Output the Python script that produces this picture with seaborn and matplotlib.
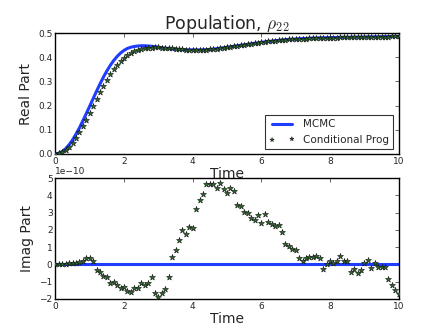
import numpy as np
import pandas as pd
import matplotlib
matplotlib.use("Agg")
import matplotlib.pyplot as plt
import seaborn as sns

# ---- data ----
time = [round(0.1 * i, 1) for i in range(101)]

mcmc_real = [
    0.000, 0.003, 0.010, 0.022, 0.038, 0.058, 0.082, 0.108, 0.137, 0.167,
    0.198, 0.229, 0.260, 0.290, 0.318, 0.344, 0.367, 0.387, 0.404, 0.418,
    0.429, 0.437, 0.442, 0.445, 0.447, 0.448, 0.448, 0.447, 0.446, 0.444,
    0.442, 0.440, 0.438, 0.437, 0.435, 0.434, 0.433, 0.432, 0.431, 0.431,
    0.431, 0.431, 0.431, 0.431, 0.432, 0.433, 0.434, 0.436, 0.438, 0.440,
    0.442, 0.444, 0.446, 0.448, 0.450, 0.452, 0.454, 0.456, 0.458, 0.460,
    0.462, 0.464, 0.466, 0.467, 0.469, 0.470, 0.472, 0.473, 0.474, 0.475,
    0.476, 0.477, 0.478, 0.478, 0.479, 0.480, 0.480, 0.481, 0.481, 0.481,
    0.482, 0.482, 0.482, 0.483, 0.483, 0.483, 0.483, 0.484, 0.484, 0.484,
    0.484, 0.485, 0.485, 0.485, 0.485, 0.486, 0.486, 0.486, 0.487, 0.487,
    0.487,
]

cond_real = [
    0.000, 0.002, 0.007, 0.016, 0.029, 0.046, 0.066, 0.089, 0.115, 0.142,
    0.170, 0.199, 0.227, 0.255, 0.281, 0.306, 0.329, 0.350, 0.368, 0.384,
    0.398, 0.409, 0.418, 0.425, 0.430, 0.434, 0.437, 0.439, 0.440, 0.441,
    0.441, 0.440, 0.439, 0.438, 0.437, 0.436, 0.434, 0.433, 0.432, 0.432,
    0.431, 0.431, 0.431, 0.431, 0.432, 0.433, 0.434, 0.436, 0.438, 0.440,
    0.442, 0.444, 0.446, 0.448, 0.450, 0.452, 0.454, 0.456, 0.458, 0.460,
    0.462, 0.464, 0.466, 0.467, 0.469, 0.470, 0.472, 0.473, 0.474, 0.475,
    0.476, 0.477, 0.478, 0.478, 0.479, 0.480, 0.480, 0.481, 0.481, 0.481,
    0.482, 0.482, 0.482, 0.483, 0.483, 0.483, 0.483, 0.484, 0.484, 0.484,
    0.484, 0.485, 0.485, 0.485, 0.485, 0.486, 0.486, 0.486, 0.487, 0.487,
    0.487,
]

mcmc_imag = [0.0] * 101

cond_imag_e10 = [
    0.00, 0.00, 0.00, 0.00, 0.05, 0.05, 0.10, 0.15, 0.20, 0.35,
    0.35, 0.20, -0.35, -0.45, -0.65, -0.75, -1.10, -1.00, -1.20, -1.40,
    -1.30, -1.55, -1.60, -1.40, -1.40, -1.10, -1.20, -1.10, -0.75, -1.65,
    -1.90, -1.65, -1.45, -0.75, 0.45, 0.85, 1.40, 2.00, 1.75, 2.15,
    2.10, 3.20, 3.70, 4.10, 4.65, 4.65, 4.65, 4.40, 4.70, 4.35,
    4.15, 4.45, 4.25, 3.45, 3.40, 3.05, 2.95, 2.70, 2.55, 2.85,
    2.40, 2.90, 2.45, 2.35, 2.25, 2.30, 1.90, 1.20, 1.05, 0.90,
    0.85, 0.35, 0.20, 0.35, 0.45, 0.45, 0.50, 0.35, -0.25, 0.00,
    0.20, 0.05, 0.20, 0.50, 0.20, 0.20, -0.45, -0.25, -0.50, -0.35,
    0.10, 0.25, -0.20, 0.10, -0.15, -0.15, -0.15, -0.85, -1.20, -1.50,
    -1.70,
]
cond_imag = [v * 1e-10 for v in cond_imag_e10]

x_ticks = [0, 2, 4, 6, 8, 10]
real_ticks = [0.0, 0.1, 0.2, 0.3, 0.4, 0.5]
imag_ticks = [-2e-10, -1e-10, 0, 1e-10, 2e-10, 3e-10, 4e-10, 5e-10]

# ---- style ----
sns.set_style("white")
plt.rcParams.update({
    "font.family": ["DejaVu Sans"],
    "xtick.direction": "in",
    "ytick.direction": "in",
    "xtick.top": True,
    "ytick.right": True,
    "xtick.major.size": 3,
    "ytick.major.size": 3,
    "xtick.major.width": 0.5,
    "ytick.major.width": 0.5,
    "axes.edgecolor": "black",
    "axes.linewidth": 1.0,
    "mathtext.fontset": "cm",
})

fig, (ax1, ax2) = plt.subplots(2, 1, figsize=(4.43, 3.32), dpi=100)
fig.subplots_adjust(left=0.125, right=0.9, top=0.9, bottom=0.1, hspace=0.2)

df = pd.DataFrame({"t": time, "mr": mcmc_real, "cr": cond_real,
                   "mi": mcmc_imag, "ci": cond_imag})

line_color = "#1f3dff"
star_color = "#2a6e2a"

sns.lineplot(data=df, x="t", y="mr", ax=ax1, color=line_color, lw=2.2,
             label="MCMC")
sns.scatterplot(data=df, x="t", y="cr", ax=ax1, marker="*", s=20,
                color=star_color, edgecolor="#111111", linewidth=0.4,
                label="Conditional Prog", zorder=3)

sns.lineplot(data=df, x="t", y="mi", ax=ax2, color=line_color, lw=2.2)
sns.scatterplot(data=df, x="t", y="ci", ax=ax2, marker="*", s=20,
                color=star_color, edgecolor="#111111", linewidth=0.4,
                zorder=3)

ax1.set_xlim(0, 10)
ax1.set_ylim(0, 0.5)
ax1.set_xticks(x_ticks)
ax1.set_yticks(real_ticks)
ax1.set_yticklabels([f"{v:.1f}" for v in real_ticks])
ax1.set_xlabel("Time", fontsize=10, labelpad=1)
ax1.set_ylabel("Real Part", fontsize=10, labelpad=4)
ax1.set_title(r"Population, $\rho_{22}$", fontsize=12.5, pad=3)

ax2.set_xlim(0, 10)
ax2.set_ylim(-2e-10, 5e-10)
ax2.set_xticks(x_ticks)
ax2.set_yticks(imag_ticks)
ax2.set_xlabel("Time", fontsize=10, labelpad=1)
ax2.set_ylabel("Imag Part", fontsize=10, labelpad=4)

for ax in (ax1, ax2):
    ax.tick_params(labelsize=6.5, pad=2)
    ax.yaxis.get_offset_text().set_fontsize(6.5)

leg = ax1.legend(loc="lower right", fontsize=7.5, frameon=True, fancybox=False,
                 scatterpoints=2, numpoints=2, handlelength=2.5,
                 markerscale=0.7,
                 borderpad=0.4, labelspacing=0.5, borderaxespad=0.5)
leg.get_frame().set_edgecolor("black")
leg.get_frame().set_linewidth(0.8)

fig.savefig("out.png", dpi=100)
